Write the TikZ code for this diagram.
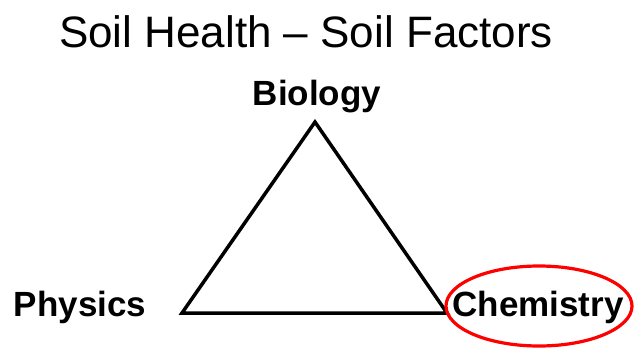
\documentclass[tikz,border=0pt]{standalone}
\usepackage{fontspec}
\setmainfont{Liberation Sans}
\usetikzlibrary{shapes.geometric, positioning, calc}

\begin{document}
\begin{tikzpicture}[
                x=1pt, y=-1pt,
                heading/.style={inner sep=0pt, anchor=base, font=\fontsize{44}{48}\selectfont},
                factor/.style={inner sep=0pt, anchor=base, font=\fontsize{35}{40}\selectfont\bfseries},
                side/.style={line width=3.5pt, line join=miter},
                ring/.style={ellipse, draw=red, line width=3.2pt, minimum width=186pt, minimum height=80pt, inner sep=0pt}
            ]%
            \useasboundingbox (0,0) rectangle (636,351);
            %
            % Titulo
            \node[heading] (title) at (306,47) {Soil Health -- Soil Factors};
            %
            % Factores
            \node[factor] (bio) at (317,105) {Biology};
            \node[factor] (phys) at (80,316) {Physics};
            \node[factor] (chem) at (538,316) {Chemistry};
            %
            % Vertices del triangulo
            \coordinate (apex) at (315,122);
            \coordinate (left) at (182,313);
            \coordinate (right) at (447,313);
            %
            \draw[side] (apex) -- (left) -- (right) -- cycle;
            %
            % Marca en Chemistry
            \node[ring] (mark) at (539,306) {};
        \end{tikzpicture}
\end{document}
